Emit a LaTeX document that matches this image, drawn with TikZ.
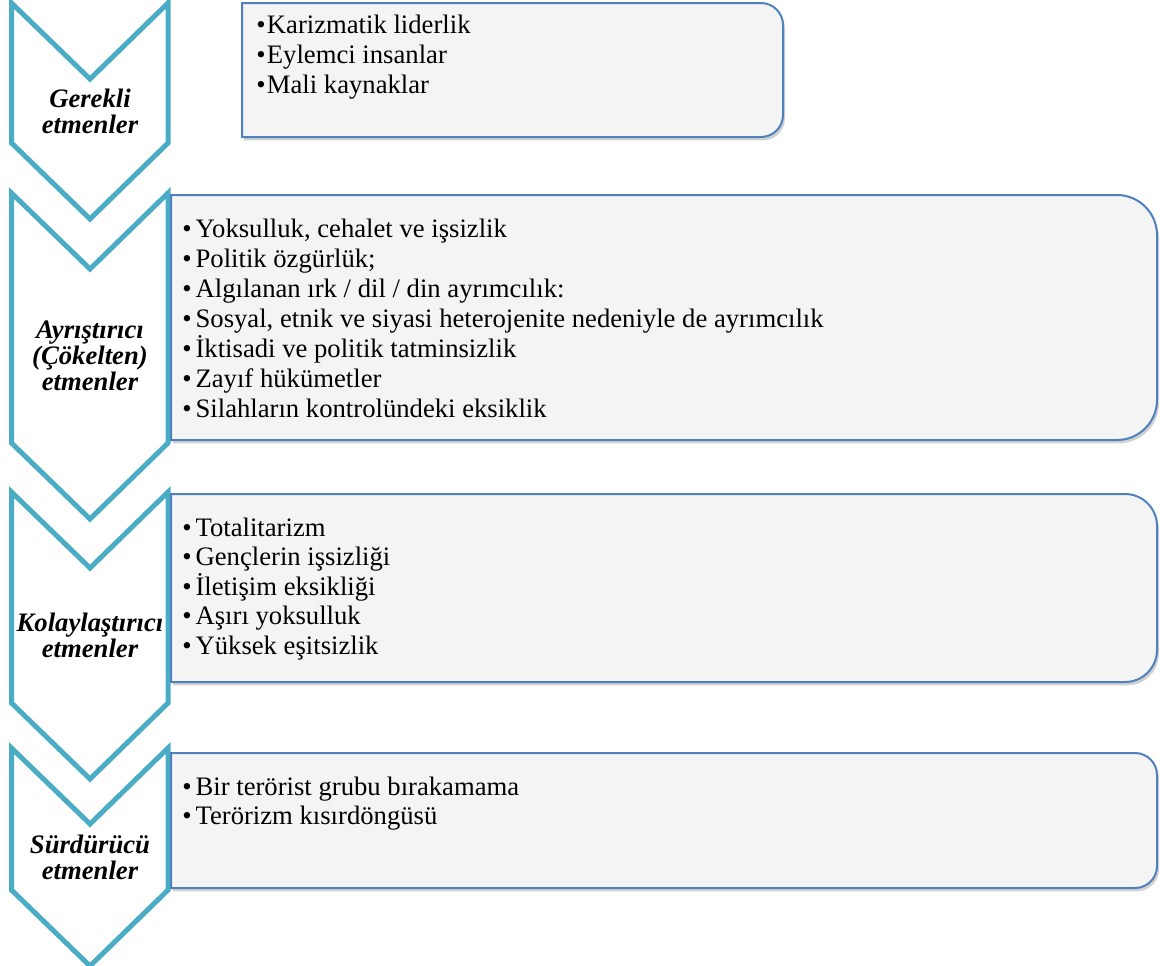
\documentclass[tikz,border=0pt]{standalone}
\usepackage{fontspec}
\setmainfont{Liberation Serif}
\usepackage{tikz}
\usetikzlibrary{shadows}
\definecolor{chevaqua}{HTML}{4BACC6}
\definecolor{boxblue}{HTML}{4F81BD}
\definecolor{boxfill}{HTML}{F4F4F4}

\begin{document}
\begin{tikzpicture}[x=0.75pt, y=-0.75pt,
  chevron/.style={draw=chevaqua, line width=3.75pt, fill=white, line join=miter},
  itembox/.style={draw=boxblue, line width=1.5pt, fill=boxfill,
    drop shadow={shadow xshift=1.5pt, shadow yshift=-2.5pt, fill=black!45, opacity=0.4}},
  factorlabel/.style={font=\fontsize{20}{19.5}\selectfont\bfseries\itshape, align=center, inner sep=0pt},
  itemline/.style={font=\fontsize{20}{22.5}\selectfont, anchor=base west, inner sep=0pt}]
  \useasboundingbox (0,0) rectangle (1160,965);

  % chevrons: name, top, side bottom, label
  \foreach \nm/\ya/\yb/\txt in {%
    gerekli/3/143/{Gerekli\\etmenler},
    ayristirici/193/443/{Ayrıştırıcı\\(Çökelten)\\etmenler},
    kolaylastirici/492/703/{Kolaylaştırıcı\\etmenler},
    surdurucu/748/890/{Sürdürücü\\etmenler}}{
      \draw[chevron] (11.5,\ya) -- (90,\ya+76) -- (168,\ya) -- (168,\yb)
        -- (90,\yb+76) -- (11.5,\yb) -- cycle;
      \node[factorlabel] (\nm) at (90,{(\ya+76+\yb)/2}) {\txt};
  }

  % boxes: left, right, top, bottom, corner radius
  \foreach \xa/\xb/\ya/\yb/\r in {%
    242/783/3/137/22,
    171/1157/195/440/40,
    171/1157/494/682/32,
    171/1157/753/888/22}{
      \draw[itembox] (\xa,\ya) -- (\xb-\r,\ya)
        arc[start angle=90, end angle=0, radius=\r*0.75pt] -- (\xb,\yb-\r)
        arc[start angle=0, end angle=-90, radius=\r*0.75pt] -- (\xa,\yb) -- cycle;
  }

  % bullet lists
  \foreach \t [count=\i from 0] in {Karizmatik liderlik, Eylemci insanlar, Mali kaynaklar}
    \node[itemline] (gerekli-\i) at (256,33+30*\i) {•\kern1pt\t};
  \foreach \t [count=\i from 0] in {{Yoksulluk, cehalet ve işsizlik}, Politik özgürlük;,
      Algılanan ırk / dil / din ayrımcılık:,
      {Sosyal, etnik ve siyasi heterojenite nedeniyle de ayrımcılık},
      İktisadi ve politik tatminsizlik, Zayıf hükümetler, Silahların kontrolündeki eksiklik}
    \node[itemline] (ayristirici-\i) at (182,237+30*\i) {•\kern3pt\t};
  \foreach \t [count=\i from 0] in {Totalitarizm, Gençlerin işsizliği, İletişim eksikliği,
      Aşırı yoksulluk, Yüksek eşitsizlik}
    \node[itemline] (kolaylastirici-\i) at (182,536+29.6*\i) {•\kern3pt\t};
  \foreach \t [count=\i from 0] in {Bir terörist grubu bırakamama, Terörizm kısırdöngüsü}
    \node[itemline] (surdurucu-\i) at (182,795+29.5*\i) {•\kern3pt\t};
\end{tikzpicture}
\end{document}
